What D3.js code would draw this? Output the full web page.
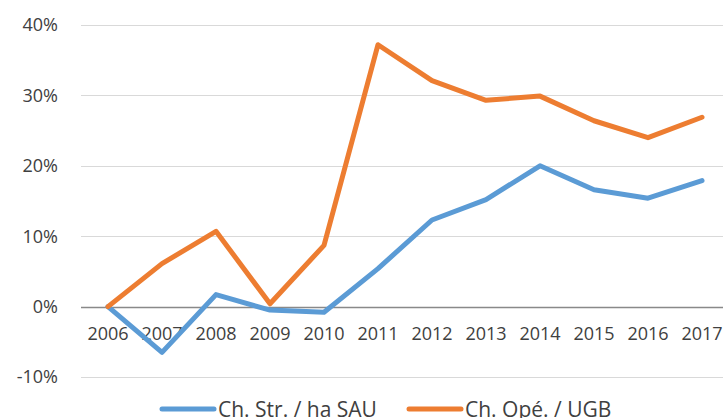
<!DOCTYPE html>
<html>
<head>
<meta charset="utf-8">
<script src="https://cdn.jsdelivr.net/npm/d3@7"></script>
<style>
    body { margin: 0; background: #fff; }
    text { font-family: "Open Sans", "DejaVu Sans", sans-serif; fill: #404040; }
</style>
</head>
<body>
<div id="chart"></div>
<script>
var years = ['2006', '2007', '2008', '2009', '2010', '2011', '2012', '2013', '2014', '2015', '2016', '2017'];
var chStrHaSau = [0, -6.5, 1.7, -0.5, -0.8, 5.4, 12.3, 15.2, 20.0, 16.6, 15.4, 17.9];
var chOpeUgb = [0, 6.1, 10.7, 0.4, 8.7, 37.2, 32.1, 29.3, 29.9, 26.4, 24.0, 26.9];
var yTicks = [-10, 0, 10, 20, 30, 40];
var seriesNames = ['Ch. Str. / ha SAU', 'Ch. Opé. / UGB'];

var width = 723, height = 418,
    plotLeft = 81, plotTop = 25, plotBottom = 377;

var svg = d3.select('#chart').append('svg')
    .attr('width', width)
    .attr('height', height);

var x = d3.scaleBand().domain(years).range([plotLeft, plotLeft + 54 * years.length]);
var y = d3.scaleLinear().domain([-10, 40]).range([plotBottom, plotTop]);
var cx = function(d) { return x(d) + x.bandwidth() / 2; };

// gridlines
svg.append('g').selectAll('line')
    .data(yTicks.filter(function(d) { return d !== 0; })).enter()
    .append('line')
    .attr('x1', plotLeft).attr('x2', width)
    .attr('y1', function(d) { return Math.round(y(d)) + 0.5; })
    .attr('y2', function(d) { return Math.round(y(d)) + 0.5; })
    .attr('stroke', '#d9d9d9').attr('stroke-width', 1);

// zero line
svg.append('line')
    .attr('x1', plotLeft).attr('x2', width)
    .attr('y1', Math.round(y(0)) + 0.5).attr('y2', Math.round(y(0)) + 0.5)
    .attr('stroke', '#898989').attr('stroke-width', 1.3);

// y labels
svg.append('g').selectAll('text')
    .data(yTicks).enter()
    .append('text')
    .attr('x', 58)
    .attr('y', function(d) { return y(d); })
    .attr('dy', '0.36em')
    .attr('text-anchor', 'end')
    .style('font-size', '18px')
    .text(function(d) { return d + '%'; });

// x labels, sit just under the zero line
svg.append('g').selectAll('text')
    .data(years).enter()
    .append('text')
    .attr('x', cx)
    .attr('y', 340)
    .attr('text-anchor', 'middle')
    .style('font-size', '18px')
    .text(function(d) { return d; });

var colors = ['#5b9bd5', '#ed7d31'];
var line = d3.line()
    .x(function(d, i) { return cx(years[i]); })
    .y(function(d) { return y(d); });

[chStrHaSau, chOpeUgb].forEach(function(vals, ix) {
    svg.append('path')
        .datum(vals)
        .attr('d', line)
        .attr('fill', 'none')
        .attr('stroke', colors[ix])
        .attr('stroke-width', 5)
        .attr('stroke-linejoin', 'round')
        .attr('stroke-linecap', 'round');
});

// legend
var legendX = [160, 407];
seriesNames.forEach(function(name, ix) {
    var g = svg.append('g').attr('transform', 'translate(' + legendX[ix] + ',409)');
    g.append('line')
        .attr('x1', 2).attr('x2', 54)
        .attr('stroke', colors[ix]).attr('stroke-width', 5)
        .attr('stroke-linecap', 'round');
    g.append('text')
        .attr('x', 58).attr('y', 8)
        .style('font-size', '21px')
        .text(name);
});
</script>
</body>
</html>
